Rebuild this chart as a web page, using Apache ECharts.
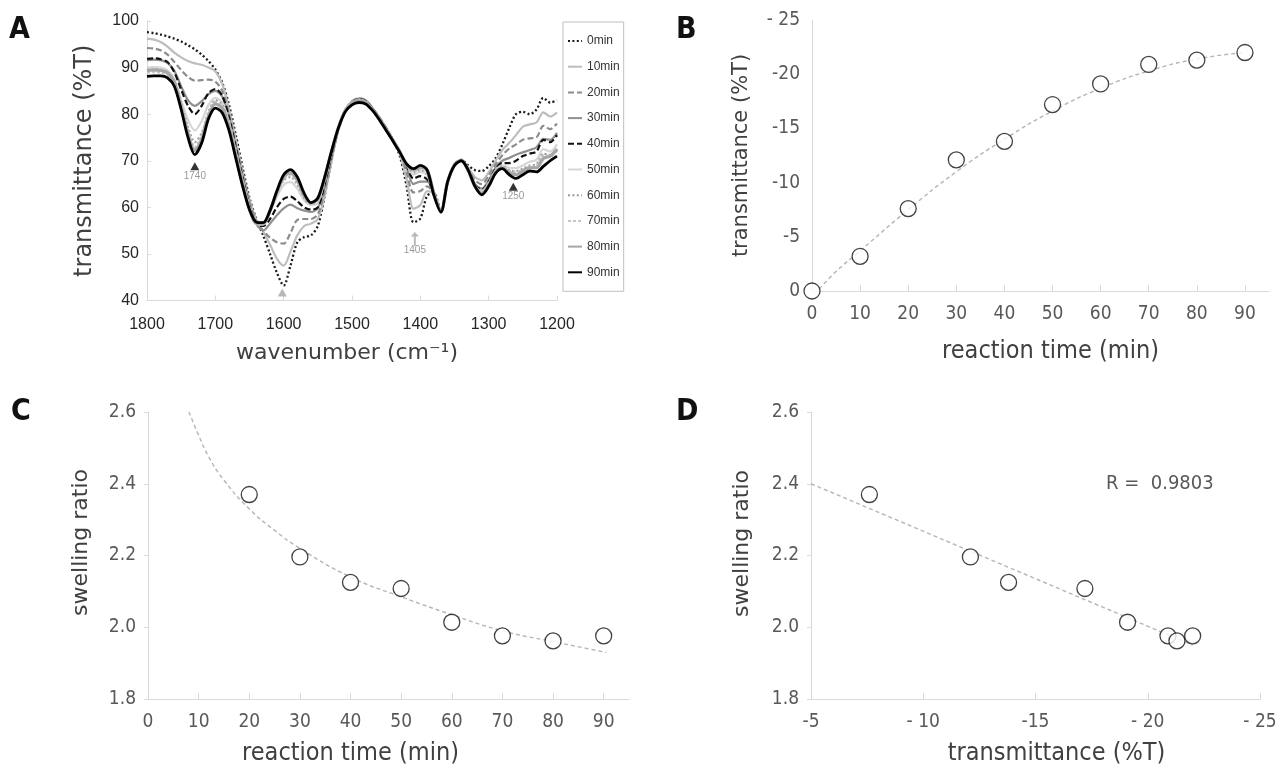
<!DOCTYPE html>
<html><head><meta charset="utf-8">
<script src="https://cdn.jsdelivr.net/npm/echarts@6/dist/echarts.min.js"></script>
<style>html,body{margin:0;padding:0;background:#fff}#c{width:1280px;height:769px}</style>
</head><body><div id="c"></div>
<script>
// ---------- Panel A data (FTIR spectra) ----------
const wavenumbers = [1800,1790,1780,1770,1760,1750,1740,1730,1720,1710,1700,1690,1680,1670,1660,1650,1640,1630,1620,1610,1600,1590,1580,1570,1560,1550,1540,1530,1520,1510,1500,1490,1480,1470,1460,1450,1440,1430,1420,1410,1400,1390,1380,1370,1360,1350,1340,1330,1320,1310,1300,1290,1280,1270,1260,1250,1240,1230,1220,1210,1200];
const spectraNames = ['0min','10min','20min','30min','40min','50min','60min','70min','80min','90min'];
const t0 = [97.6,97.4,97.1,96.7,96.2,95.6,94.8,93.9,92.8,91.4,89.6, 86.8,82.0,75.5,68.5,62.0,57.5,54.0,50.0,46.0,43.2, 47.5,52.5,53.6,54.0,56.0,62.5,70.0,76.5,80.5,82.5, 83.2,82.8,81.2,79.2,77.0,74.5,71.0,64.5,56.8,57.6, 62.5,63.0,59.0,65.5,69.2,70.2,69.0,68.0,67.8,68.8, 70.5,73.5,77.0,80.0,80.5,80.0,81.0,83.5,82.5,83.0];
const t10 = [96.2,96.0,95.5,94.5,93.2,92.2,91.4,90.9,90.6,90.0,89.2, 86.5,81.0,74.5,67.5,61.5,57.3,54.8,52.0,49.0,47.5, 50.5,54.0,56.0,56.5,57.5,62.5,70.0,76.5,80.5,82.7, 83.4,83.0,81.3,79.3,77.0,74.5,71.5,66.0,59.7,60.5, 63.5,63.0,59.0,65.5,69.3,70.2,68.5,66.5,65.8,67.5, 70.0,72.3,73.8,75.5,77.3,77.8,78.2,80.4,79.5,80.4];
const t20 = [94.2,94.1,93.7,92.8,91.2,89.5,88.0,87.2,87.3,87.4,87.0, 85.0,80.0,73.5,67.0,61.0,57.0,55.0,53.5,52.5,52.2, 54.5,57.3,57.5,57.5,58.5,63.5,70.5,76.8,80.7,82.7, 83.4,83.0,81.3,79.3,77.0,74.5,72.0,67.5,63.2,63.5, 64.5,63.0,59.0,65.5,69.3,70.2,68.2,65.8,65.0,66.8, 69.2,71.2,72.6,73.5,74.5,74.8,75.0,77.5,76.8,78.0];
const t30 = [91.6,91.7,91.6,91.0,89.3,86.0,83.0,81.8,82.8,84.3,85.0, 83.8,79.5,73.0,66.5,60.5,56.5,55.0,56.5,58.3,59.8, 60.6,59.8,59.3,59.0,59.8,64.5,71.0,77.0,80.8,82.7, 83.3,82.9,81.2,79.2,77.0,74.5,72.0,68.5,65.0,65.5, 65.5,63.0,59.0,65.5,69.3,70.1,68.0,65.0,64.0,65.8, 68.5,70.0,70.6,71.3,71.8,72.3,72.9,74.7,74.5,76.0];
const t40 = [91.9,92.0,91.8,91.2,89.0,85.3,81.8,80.0,81.8,84.5,85.4, 84.0,79.3,72.8,66.2,60.2,56.5,56.0,57.5,60.0,61.8, 62.3,61.3,60.0,59.5,60.0,65.0,71.3,77.0,80.8,82.6, 83.2,82.8,81.1,79.1,76.9,74.4,72.0,69.0,66.2,66.7, 66.0,63.0,59.0,65.5,69.2,70.1,68.0,64.8,63.8,65.5, 68.2,69.5,69.5,70.0,71.0,71.5,72.0,74.5,74.0,75.5];
const t50 = [90.0,90.1,90.0,89.4,87.5,83.0,78.8,76.5,78.5,82.0,83.5, 82.5,78.3,72.0,65.7,60.0,56.4,56.3,59.0,62.2,64.8, 65.4,64.0,61.5,60.5,61.0,65.8,71.7,77.2,80.9,82.6, 83.1,82.7,81.0,79.0,76.8,74.3,71.9,69.2,67.0,67.6, 66.8,63.0,59.0,65.5,69.2,70.1,67.9,64.6,63.5,65.2, 67.9,69.0,68.5,68.4,69.0,69.8,70.2,72.5,72.0,73.5];
const t60 = [89.5,89.6,89.5,89.0,87.2,82.3,77.3,74.0,76.0,80.5,83.0, 82.0,77.8,71.6,65.4,59.8,56.4,56.4,59.2,62.8,65.8, 66.5,64.8,62.0,60.7,61.4,66.0,71.8,77.2,80.9,82.6, 83.1,82.7,81.0,79.0,76.8,74.3,71.9,69.2,67.5,68.0, 67.2,63.0,59.0,65.5,69.2,70.1,67.9,64.5,63.2,65.0, 67.8,68.8,68.0,67.8,68.3,69.0,69.3,71.5,71.3,72.5];
const t70 = [89.0,89.1,89.0,88.6,86.9,81.9,76.3,72.8,75.3,80.0,82.6, 81.6,77.4,71.3,65.2,59.7,56.5,56.5,59.3,63.0,66.2, 67.0,65.3,62.3,60.8,61.6,66.2,71.9,77.1,80.8,82.5, 83.0,82.6,80.9,78.9,76.7,74.3,71.9,69.2,67.8,68.3, 67.6,63.0,59.0,65.5,69.2,70.1,67.9,64.5,63.1,64.9, 67.7,68.6,67.8,67.5,68.0,68.6,68.8,71.0,71.0,72.3];
const t80 = [89.4,89.5,89.4,88.9,86.8,81.5,75.8,72.2,74.6,79.6,82.2, 81.3,77.2,71.0,65.0,59.6,56.6,56.6,59.3,63.2,66.6, 67.4,65.8,62.6,61.0,61.8,66.3,72.0,77.1,80.7,82.4, 82.9,82.5,80.9,78.9,76.7,74.3,71.9,69.2,68.0,68.6, 68.0,63.0,59.0,65.5,69.1,70.0,67.9,64.5,63.0,64.8, 67.5,68.5,67.5,67.0,67.8,68.5,68.5,70.5,71.0,72.5];
const t90 = [88.1,88.2,88.2,87.8,86.0,81.0,75.0,71.3,73.8,79.0,81.3, 80.3,76.5,70.5,64.5,59.5,56.8,56.7,59.3,63.5,67.0, 68.1,66.5,63.0,61.0,62.0,66.5,72.0,77.0,80.5,82.0, 82.5,82.2,80.8,78.8,76.5,74.2,71.8,69.3,68.3,69.0, 68.0,62.5,59.0,65.5,69.0,70.0,68.0,64.5,62.7,64.5, 67.3,68.3,67.0,66.2,67.0,67.8,67.6,68.8,70.0,71.0];
const spectraTicks = [1200,1300,1400,1500,1600,1700,1800];
// peak markers: position and label
const markWn = [1730, 1408, 1602, 1264];
const markT = [68.8, 54.7, 41.7, 64.4];
const markLabelT = [66.6, 50.8, null, 62.3];
const markLabels = ['1740', '1405', '', '1250'];

// ---------- Panel B ----------
const timeB = [0,10,20,30,40,50,60,70,80,90];
const transB = [0,-3.2,-7.6,-12.1,-13.8,-17.2,-19.1,-20.9,-21.3,-22.0];
const trendBTime = [1.5,5,10,20,30,40,50,60,70,80,90];
const trendBVal = [-0.2,-1.8,-3.7,-7.5,-11.0,-14.0,-16.6,-18.7,-20.3,-21.4,-22.0];
const timeTicks = [0,10,20,30,40,50,60,70,80,90];
const transTicks = [0,-5,-10,-15,-20,-25];
const transTickLabelsB = ['0','-5','-10','-15','-20','- 25'];

// ---------- Panel C ----------
const timeC = [20,30,40,50,60,70,80,90];
const swellC = [2.37,2.196,2.125,2.108,2.014,1.976,1.962,1.976];
const trendCTime = [8.1,10,12,15,20,25,30,40,50,60,70,80,90.5];
const trendCVal = [2.6,2.535,2.475,2.41,2.33,2.27,2.22,2.14,2.085,2.035,1.99,1.96,1.93];
const swellTicks = [1.8,2.0,2.2,2.4,2.6];
const swellTickLabels = ['1.8','2.0','2.2','2.4','2.6'];

// ---------- Panel D ----------
const transD = transB.slice(2);   // transmittance change at 20..90 min
const swellD = swellC;
const trendDX = [-5, -22];
const trendDY = [2.40, 1.95];
const transTicksD = [-5,-10,-15,-20,-25];
const transTickLabelsD = ['-5','- 10','-15','- 20','- 25'];
const rText = 'R =  0.9803';

// ---------- Styles ----------
const NARROW = "'Liberation Sans Narrow','DejaVu Sans Condensed','Arial Narrow',sans-serif";
const WIDE = "'DejaVu Sans',sans-serif";
const REG = "'Liberation Sans',Arial,sans-serif";
const AX = '#d9d9d9';
const spectra = [t0,t10,t20,t30,t40,t50,t60,t70,t80,t90];
const spectraStyles = [
  {color:'#1a1a1a', type:[2,2.4], width:2.3},
  {color:'#bdbdbd', type:'solid', width:2.2},
  {color:'#8c8c8c', type:[6,3], width:2.2},
  {color:'#8f8f8f', type:'solid', width:2.2},
  {color:'#111111', type:[6,3], width:2.2},
  {color:'#d6d6d6', type:'solid', width:2.2},
  {color:'#9a9a9a', type:[2,2.4], width:2.1},
  {color:'#c6c6c6', type:[3,2], width:3},
  {color:'#a6a6a6', type:'solid', width:3.2},
  {color:'#000000', type:'solid', width:2.8}
];

function mapLabel(vals, labels) {
  return function (v) {
    for (let i = 0; i < vals.length; i++) if (Math.abs(vals[i] - v) < 1e-6) return labels[i];
    return '';
  };
}
function baseAxis(o) {
  return Object.assign({
    type: 'value',
    axisLine: {show: true, lineStyle: {color: AX, width: 1}},
    axisTick: {show: true, inside: true, length: 5, lineStyle: {color: AX}},
    splitLine: {show: false},
    nameLocation: 'middle'
  }, o);
}

const series = [];
spectra.forEach((arr, i) => {
  series.push({
    type: 'line', name: spectraNames[i], xAxisIndex: 0, yAxisIndex: 0,
    data: wavenumbers.map((w, j) => [w, arr[j]]),
    smooth: 0.3, symbol: 'none', showSymbol: false,
    lineStyle: spectraStyles[i], itemStyle: {color: spectraStyles[i].color},
    silent: true, z: 2
  });
});
const markSymbols = ['triangle', 'path://M5,0 L10,7 L6.2,7 L6.2,22 L3.8,22 L3.8,7 L0,7 Z', 'triangle', 'triangle'];
const markColors = ['#000000', '#a6a6a6', '#a6a6a6', '#000000'];
const markSizes = [[9,8], [8,14], [9,8], [9,8]];
series.push({
  type: 'scatter', xAxisIndex: 0, yAxisIndex: 0, z: 5, silent: true,
  data: markWn.map((w, i) => ({
    value: [w, markT[i]], symbol: markSymbols[i], symbolSize: markSizes[i],
    symbolOffset: i === 1 ? [0, '50%'] : [0, 0],
    itemStyle: {color: markColors[i]}
  }))
});
series.push({
  type: 'scatter', xAxisIndex: 0, yAxisIndex: 0, z: 5, silent: true,
  symbolSize: 1, itemStyle: {color: 'rgba(0,0,0,0)'},
  data: markWn.map((w, i) => ({value: [w, markLabelT[i] == null ? 0 : markLabelT[i]], name: markLabels[i]})).filter(d => d.name !== ''),
  label: {show: true, position: 'inside', formatter: p => p.name, color: '#7f7f7f', fontSize: 10, fontFamily: REG}
});
// Panel B
series.push({
  type: 'line', xAxisIndex: 1, yAxisIndex: 1, smooth: true, symbol: 'none', silent: true, z: 2,
  data: trendBTime.map((t, i) => [t, trendBVal[i]]),
  lineStyle: {color: '#b5b5b5', type: [4,3], width: 1.4}
});
series.push({
  type: 'scatter', xAxisIndex: 1, yAxisIndex: 1, symbol: 'circle', symbolSize: 16, z: 3, silent: true,
  data: timeB.map((t, i) => [t, transB[i]]),
  itemStyle: {color: '#ffffff', borderColor: '#111111', borderWidth: 1.3}
});
// Panel C
series.push({
  type: 'line', xAxisIndex: 2, yAxisIndex: 2, smooth: true, symbol: 'none', silent: true, z: 2,
  data: trendCTime.map((t, i) => [t, trendCVal[i]]),
  lineStyle: {color: '#b5b5b5', type: [4,3], width: 1.4}
});
series.push({
  type: 'scatter', xAxisIndex: 2, yAxisIndex: 2, symbol: 'circle', symbolSize: 16, z: 3, silent: true,
  data: timeC.map((t, i) => [t, swellC[i]]),
  itemStyle: {color: '#ffffff', borderColor: '#111111', borderWidth: 1.3}
});
// Panel D
series.push({
  type: 'line', xAxisIndex: 3, yAxisIndex: 3, symbol: 'none', silent: true, z: 2,
  data: trendDX.map((x, i) => [x, trendDY[i]]),
  lineStyle: {color: '#b5b5b5', type: [4,3], width: 1.4}
});
series.push({
  type: 'scatter', xAxisIndex: 3, yAxisIndex: 3, symbol: 'circle', symbolSize: 16, z: 3, silent: true,
  data: transD.map((x, i) => [x, swellD[i]]),
  itemStyle: {color: '#ffffff', borderColor: '#111111', borderWidth: 1.3}
});

const tickLabelBCD = {color: '#595959', fontSize: 19, fontFamily: NARROW};
const option = {
  animation: false,
  backgroundColor: '#ffffff',
  grid: [
    {left: 147, top: 21, width: 410, height: 279.5, outerBoundsMode: 'none'},
    {left: 812, top: 20, width: 457, height: 271, outerBoundsMode: 'none'},
    {left: 148, top: 412, width: 481, height: 287, outerBoundsMode: 'none'},
    {left: 811, top: 412, width: 449, height: 287, outerBoundsMode: 'none'}
  ],
  legend: {
    data: spectraNames, orient: 'vertical', left: 563, top: 22,
    itemWidth: 14, itemHeight: 14, itemGap: 13.7,
    padding: [13, 4, 13, 4], borderColor: '#bfbfbf', borderWidth: 1,
    itemStyle: {opacity: 0},
    textStyle: {fontSize: 12, color: '#333333', fontFamily: REG},
    selectedMode: false
  },
  xAxis: [
    baseAxis({gridIndex: 0, min: 1200, max: 1800, interval: 100, inverse: true,
      axisLabel: {color: '#262626', fontSize: 16, fontFamily: REG, margin: 16, customValues: spectraTicks, formatter: v => String(v)},
      axisTick: {show: true, inside: true, length: 5, lineStyle: {color: AX}, customValues: spectraTicks},
      name: 'wavenumber (cm\u207B\u00B9)', nameGap: 42,
      nameTextStyle: {fontSize: 22, color: '#404040', fontFamily: WIDE, padding: [0, 10, 0, 0]}}),
    baseAxis({gridIndex: 1, min: 0, max: 95, interval: 10,
      axisLabel: {...tickLabelBCD, margin: 14, customValues: timeTicks},
      axisTick: {show: true, inside: true, length: 6, lineStyle: {color: AX}, customValues: timeTicks},
      name: 'reaction time (min)', nameGap: 48,
      nameTextStyle: {fontSize: 25, color: '#404040', fontFamily: NARROW, padding: [0, 0, 0, 20]}}),
    baseAxis({gridIndex: 2, min: 0, max: 95, interval: 10,
      axisLabel: {...tickLabelBCD, margin: 14, customValues: timeTicks},
      axisTick: {show: true, inside: true, length: 6, lineStyle: {color: AX}, customValues: timeTicks},
      name: 'reaction time (min)', nameGap: 42,
      nameTextStyle: {fontSize: 25, color: '#404040', fontFamily: NARROW, padding: [0, 76, 0, 0]}}),
    baseAxis({gridIndex: 3, min: -25, max: -5, interval: 5, inverse: true,
      axisLabel: {...tickLabelBCD, margin: 14, customValues: transTicksD, formatter: mapLabel(transTicksD, transTickLabelsD)},
      axisTick: {show: true, inside: true, length: 6, lineStyle: {color: AX}, customValues: transTicksD},
      name: 'transmittance (%T)', nameGap: 42,
      nameTextStyle: {fontSize: 25, color: '#404040', fontFamily: NARROW, padding: [0, 0, 0, 42]}})
  ],
  yAxis: [
    baseAxis({gridIndex: 0, min: 40, max: 100, interval: 10,
      axisLabel: {color: '#262626', fontSize: 16, fontFamily: REG, margin: 8},
      axisTick: {show: true, inside: true, length: 4, lineStyle: {color: AX}},
      name: 'transmittance (%T)', nameGap: 50,
      nameTextStyle: {fontSize: 24, color: '#404040', fontFamily: WIDE}}),
    baseAxis({gridIndex: 1, min: -25, max: 0, interval: 5, inverse: true,
      axisLabel: {...tickLabelBCD, margin: 12, customValues: transTicks, formatter: mapLabel(transTicks, transTickLabelsB)},
      axisTick: {show: false},
      name: 'transmittance (%T)', nameGap: 60,
      nameTextStyle: {fontSize: 21, color: '#404040', fontFamily: WIDE}}),
    baseAxis({gridIndex: 2, min: 1.8, max: 2.6, interval: 0.2,
      axisLabel: {...tickLabelBCD, margin: 12, customValues: swellTicks, formatter: mapLabel(swellTicks, swellTickLabels)},
      axisTick: {show: true, inside: false, length: 4, lineStyle: {color: AX}, customValues: swellTicks},
      name: 'swelling ratio', nameGap: 56,
      nameTextStyle: {fontSize: 22, color: '#404040', fontFamily: WIDE, padding: [0, 0, 0, 26]}}),
    baseAxis({gridIndex: 3, min: 1.8, max: 2.6, interval: 0.2,
      axisLabel: {...tickLabelBCD, margin: 12, customValues: swellTicks, formatter: mapLabel(swellTicks, swellTickLabels)},
      axisTick: {show: true, inside: false, length: 4, lineStyle: {color: AX}, customValues: swellTicks},
      name: 'swelling ratio', nameGap: 58,
      nameTextStyle: {fontSize: 22, color: '#404040', fontFamily: WIDE, padding: [0, 0, 0, 24]}})
  ],
  graphic: [
    {type: 'text', left: 9, top: 15, style: {text: 'A', font: "bold 30px " + NARROW, fill: '#111'}},
    {type: 'text', left: 676, top: 15, style: {text: 'B', font: "bold 30px " + NARROW, fill: '#111'}},
    {type: 'text', left: 11, top: 397, style: {text: 'C', font: "bold 30px " + NARROW, fill: '#111'}},
    {type: 'text', left: 676, top: 397, style: {text: 'D', font: "bold 30px " + NARROW, fill: '#111'}},
    {type: 'text', left: 1106, top: 474, style: {text: rText, font: "20px " + NARROW, fill: '#595959'}}
  ],
  series: series
};
const chart = echarts.init(document.getElementById('c'));
chart.setOption(option);
</script>
</body></html>
